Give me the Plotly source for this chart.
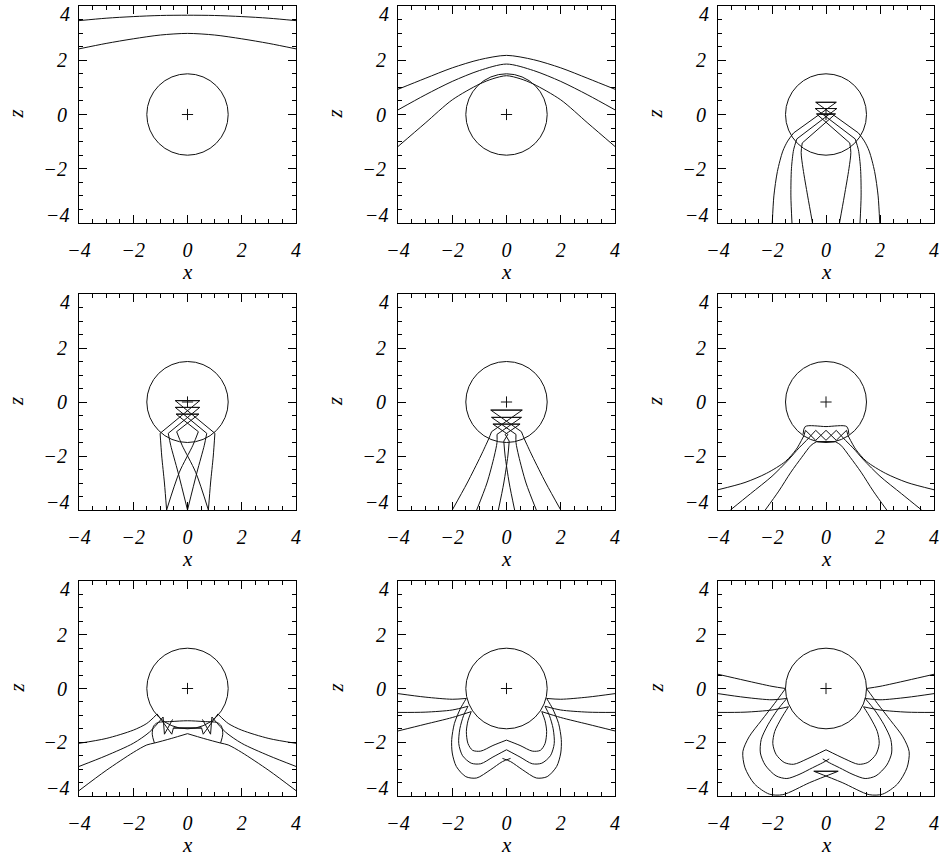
import plotly.graph_objects as go

# ---------------------------------------------------------------------------
# Data (x, z).
#   *_ARC_*  : symmetric curves given for x <= 0, completed by reflection
#   *_CURVE_*: smooth left-hand paths, drawn again mirrored about x = 0
#   *_RAY_*  : straight-segment left-hand paths, drawn again mirrored
# ---------------------------------------------------------------------------
CIRCLE_RADIUS = 1.5
AXIS_RANGE = [-4, 4]
TICK_VALUES = [-4, -2, 0, 2, 4]
X_TICK_TEXT = ["\u22124", "\u22122", "0", "2", "4"]
Y_TICK_TEXT = ["", "\u22122", "0", "2", ""]      # end labels are set inside the frame
Y_END_LABELS = [(4, "4"), (-4, "\u22124")]
MINOR_STEP = 0.5

# panel 1
P1_ARC_OUTER = [(-4, 3.46), (-3, 3.55), (-2, 3.61), (-1, 3.65), (0, 3.66)]
P1_ARC_INNER = [(-4, 2.42), (-3, 2.62), (-2, 2.79), (-1, 2.93), (0, 2.99)]

# panel 2
P2_ARC_1 = [(-4, 0.93), (-3, 1.33), (-2, 1.72), (-1, 2.02), (0, 2.18)]
P2_ARC_2 = [(-4, 0.17), (-3, 0.72), (-2, 1.22), (-1, 1.62), (0, 1.86)]
P2_ARC_3 = [(-4, -1.18), (-3, -0.32), (-2, 0.54), (-1, 1.12), (-0.5, 1.32), (0, 1.43)]

# panel 3
P3_CURVE_OUTER = [(-1.99, -4.0), (-1.93, -3.0), (-1.8, -2.1), (-1.6, -1.35), (-1.42, -0.98),
                  (-1.2, -0.68)]
P3_CURVE_MID = [(-1.26, -4.0), (-1.3, -3.0), (-1.28, -2.0), (-1.2, -1.3), (-1.08, -0.9)]
P3_CURVE_INNER = [(-0.5, -4.0), (-0.68, -3.0), (-0.85, -2.0), (-0.92, -1.4), (-0.88, -1.05)]
P3_RAY_OUTER = [(-1.2, -0.68), (0.38, 0.45), (-0.38, 0.45)]
P3_RAY_MID = [(-1.08, -0.9), (0.4, 0.22), (-0.4, 0.22)]
P3_RAY_INNER = [(-0.88, -1.05), (0.35, 0.02), (-0.35, 0.02)]

# panel 4
P4_CURVE_OUTER = [(-0.77, -4.0), (-0.85, -3.0), (-0.95, -2.0), (-1.01, -1.16)]
P4_CURVE_MID = [(0.0, -4.0), (-0.35, -2.6), (-0.62, -1.6), (-0.71, -1.16)]
P4_CURVE_INNER = [(0.77, -4.0), (0.3, -2.6), (-0.2, -1.6), (-0.4, -1.1)]
P4_RAY_OUTER = [(-1.01, -1.16), (0.45, 0.05), (-0.45, 0.05)]
P4_RAY_MID = [(-0.71, -1.16), (0.45, -0.2), (-0.45, -0.2)]
P4_RAY_INNER = [(-0.4, -1.1), (0.42, -0.45), (-0.42, -0.45)]

# panel 5
P5_CURVE_OUTER = [(-2.0, -4.0), (-1.45, -3.0), (-0.95, -2.0), (-0.65, -1.35), (-0.55, -1.1)]
P5_CURVE_MID = [(-1.1, -4.0), (-0.72, -3.0), (-0.45, -2.0), (-0.35, -1.5), (-0.35, -1.2)]
P5_CURVE_INNER = [(-0.3, -4.0), (-0.1, -3.0), (0.05, -2.0), (0.1, -1.45)]
P5_RAY_OUTER = [(-0.55, -1.1), (0.58, -0.3), (-0.58, -0.3)]
P5_RAY_MID = [(-0.35, -1.2), (0.55, -0.57), (-0.55, -0.57)]
P5_RAY_INNER = [(0.1, -1.45), (-0.05, -1.2), (0.5, -0.82), (-0.5, -0.82)]

# panel 6
P6_ARC_TOP = [(-0.85, -1.2), (-0.77, -0.91), (0, -0.91)]
P6_CURVE_OUTER = [(-4.0, -3.25), (-3.0, -2.98), (-2.2, -2.64), (-1.5, -2.2), (-1.1, -1.75),
                  (-0.82, -1.25)]
P6_CURVE_MID = [(-3.54, -4.0), (-2.8, -3.4), (-2.0, -2.75), (-1.4, -2.15), (-1.0, -1.7),
                (-0.72, -1.42)]
P6_CURVE_INNER = [(-2.25, -4.0), (-1.75, -3.3), (-1.3, -2.6), (-0.9, -2.05), (-0.55, -1.6),
                  (-0.35, -1.47)]
P6_RAY_OUTER = [(-0.82, -1.25), (-0.76, -1.05), (-0.38, -1.42), (0.0, -1.05)]
P6_RAY_MID = [(-0.72, -1.42), (-0.38, -1.05), (0.0, -1.42)]
P6_RAY_INNER = [(-0.35, -1.47), (0.35, -1.47)]

# panel 7
P7_ARC_SIDE = [(-1.22, -2.03), (-1.3, -1.7), (-1.25, -1.4), (-1.1, -1.27), (-0.6, -1.23), (0, -1.2)]
P7_CURVE_1 = [(-4.0, -2.04), (-3.0, -1.86), (-2.0, -1.55), (-1.5, -1.3), (-1.12, -0.95)]
P7_CURVE_2 = [(-4.0, -2.9), (-3.0, -2.5), (-2.0, -2.04), (-1.4, -1.62), (-0.9, -1.06)]
P7_CURVE_3 = [(-4.0, -3.8), (-3.0, -3.05), (-2.0, -2.38), (-1.5, -2.1), (-1.22, -2.03),
              (-0.6, -1.86), (0.0, -1.68)]
P7_RAY_1 = [(-1.12, -0.95), (-0.58, -1.7), (-0.52, -1.47), (0.52, -1.47)]
P7_RAY_2 = [(-0.9, -1.06), (-0.85, -1.7), (-0.55, -1.15)]

# panel 8
P8_CURVE_1 = [(-4.0, -0.19), (-3.0, -0.32), (-2.0, -0.4), (-1.48, -0.37)]
P8_CURVE_2 = [(-4.0, -0.89), (-3.0, -0.88), (-2.0, -0.8), (-1.42, -0.66)]
P8_CURVE_3 = [(-4.0, -1.58), (-3.0, -1.33), (-2.0, -1.08), (-1.3, -0.86)]
P8_LOOP_1 = [(-1.48, -0.37), (-1.7, -0.75), (-1.92, -1.3), (-2.02, -1.9), (-2.0, -2.4),
             (-1.85, -2.9), (-1.5, -3.28), (-1.1, -3.33), (-0.6, -3.03), (-0.15, -2.72),
             (0.15, -2.6)]
P8_LOOP_2 = [(-1.42, -0.66), (-1.58, -1.0), (-1.72, -1.5), (-1.76, -2.05), (-1.62, -2.5),
             (-1.3, -2.78), (-0.95, -2.8), (-0.5, -2.55), (0.0, -2.28)]
P8_LOOP_3 = [(-1.3, -0.86), (-1.42, -1.2), (-1.48, -1.6), (-1.42, -2.05), (-1.25, -2.3),
             (-0.95, -2.33), (-0.5, -2.12), (0.0, -1.92)]

# panel 9
P9_CURVE_1 = [(-4.0, 0.53), (-3.0, 0.3), (-2.0, 0.08), (-1.5, 0.0)]
P9_CURVE_2 = [(-4.0, -0.19), (-3.0, -0.33), (-2.0, -0.42), (-1.45, -0.37)]
P9_CURVE_3 = [(-4.0, -0.89), (-3.0, -0.88), (-2.0, -0.8), (-1.39, -0.68)]
P9_LOOP_1 = [(-1.5, 0.0), (-1.9, -0.55), (-2.4, -1.2), (-2.85, -1.8), (-3.08, -2.35),
             (-3.0, -2.95), (-2.65, -3.55), (-2.1, -3.93), (-1.6, -3.95), (-0.6, -3.5),
             (0.45, -3.08)]
P9_LOOP_2 = [(-1.45, -0.37), (-1.8, -0.8), (-2.15, -1.35), (-2.4, -1.9), (-2.43, -2.4),
             (-2.25, -2.85), (-1.85, -3.25), (-1.45, -3.35), (-1.0, -3.2), (-0.5, -2.95),
             (-0.12, -2.76), (0.12, -2.62)]
P9_LOOP_3 = [(-1.39, -0.68), (-1.65, -1.1), (-1.9, -1.6), (-1.97, -2.05), (-1.85, -2.45),
             (-1.55, -2.75), (-1.2, -2.82), (-0.7, -2.62), (0.0, -2.28)]
P9_RAY_CAP = [(0.45, -3.08), (-0.45, -3.08)]

PANELS = [
    dict(arcs=[P1_ARC_OUTER, P1_ARC_INNER], curves=[], rays=[]),
    dict(arcs=[P2_ARC_1, P2_ARC_2, P2_ARC_3], curves=[], rays=[]),
    dict(arcs=[], curves=[P3_CURVE_OUTER, P3_CURVE_MID, P3_CURVE_INNER],
         rays=[P3_RAY_OUTER, P3_RAY_MID, P3_RAY_INNER]),
    dict(arcs=[], curves=[P4_CURVE_OUTER, P4_CURVE_MID, P4_CURVE_INNER],
         rays=[P4_RAY_OUTER, P4_RAY_MID, P4_RAY_INNER]),
    dict(arcs=[], curves=[P5_CURVE_OUTER, P5_CURVE_MID, P5_CURVE_INNER],
         rays=[P5_RAY_OUTER, P5_RAY_MID, P5_RAY_INNER]),
    dict(arcs=[P6_ARC_TOP], curves=[P6_CURVE_OUTER, P6_CURVE_MID, P6_CURVE_INNER],
         rays=[P6_RAY_OUTER, P6_RAY_MID, P6_RAY_INNER]),
    dict(arcs=[P7_ARC_SIDE], curves=[P7_CURVE_1, P7_CURVE_2, P7_CURVE_3],
         rays=[P7_RAY_1, P7_RAY_2]),
    dict(arcs=[], curves=[P8_CURVE_1, P8_CURVE_2, P8_CURVE_3, P8_LOOP_1, P8_LOOP_2, P8_LOOP_3],
         rays=[]),
    dict(arcs=[], curves=[P9_CURVE_1, P9_CURVE_2, P9_CURVE_3, P9_LOOP_1, P9_LOOP_2, P9_LOOP_3],
         rays=[P9_RAY_CAP]),
]

# ---------------------------------------------------------------------------
# Page geometry (pixels in a 940 x 858 page)
# ---------------------------------------------------------------------------
W, H = 940, 858
COL_PX = [(79, 296), (398, 615), (718, 934)]
ROW_PX = [(6, 223), (294, 510), (581, 796)]

INK = "#111111"
SERIF = "Liberation Serif, Times New Roman, DejaVu Serif, serif"
TICK_FONT = dict(family=SERIF, style="italic", size=20, color="black")
TITLE_FONT = dict(family=SERIF, style="italic", size=21, color="black")


def mirrored(path):
    return [(-x, z) for x, z in path]


def symmetric(half):
    return list(half) + [(-x, z) for x, z in reversed(half[:-1])]


def axis_style(domain, anchor, ticktext, standoff):
    return dict(
        domain=domain, anchor=anchor, range=AXIS_RANGE, automargin=False,
        showgrid=False, zeroline=False,
        showline=True, linecolor="black", linewidth=1, mirror="ticks",
        ticks="inside", ticklen=8, tickwidth=1, tickcolor="black",
        tickmode="array", tickvals=TICK_VALUES, ticktext=ticktext,
        tickfont=TICK_FONT, ticklabelstandoff=standoff,
        minor=dict(tickmode="linear", ticks="inside", ticklen=4, tickwidth=1,
                   tickcolor="black", dtick=MINOR_STEP, tick0=0, showgrid=False),
        fixedrange=True,
    )


fig = go.Figure()
layout = dict(width=W, height=H, margin=dict(l=0, r=0, t=0, b=0),
              paper_bgcolor="white", plot_bgcolor="white", showlegend=False)
annotations = []
shapes = []


def add_path(points, xname, yname, smooth):
    line = dict(color=INK, width=1)
    if smooth:
        line.update(shape="spline", smoothing=0.8)
    fig.add_trace(go.Scatter(x=[q[0] for q in points], y=[q[1] for q in points],
                             mode="lines", line=line, xaxis=xname, yaxis=yname,
                             hoverinfo="skip"))


for i, panel in enumerate(PANELS):
    r, c = divmod(i, 3)
    n = "" if i == 0 else str(i + 1)
    xname, yname = "x" + n, "y" + n
    x0, x1 = COL_PX[c]
    y0, y1 = ROW_PX[r]
    layout["xaxis" + n] = axis_style([x0 / W, x1 / W], yname, X_TICK_TEXT, 9)
    layout["yaxis" + n] = axis_style([1 - y1 / H, 1 - y0 / H], xname, Y_TICK_TEXT, 7)

    for arc in panel["arcs"]:
        add_path(symmetric(arc), xname, yname, True)
    for curve in panel["curves"]:
        add_path(curve, xname, yname, True)
        add_path(mirrored(curve), xname, yname, True)
    for ray in panel["rays"]:
        add_path(ray, xname, yname, False)
        add_path(mirrored(ray), xname, yname, False)

    # body outline and its centre
    shapes.append(dict(type="circle", xref=xname, yref=yname,
                       x0=-CIRCLE_RADIUS, x1=CIRCLE_RADIUS,
                       y0=-CIRCLE_RADIUS, y1=CIRCLE_RADIUS,
                       line=dict(color=INK, width=1)))
    fig.add_trace(go.Scatter(x=[0], y=[0], mode="markers", xaxis=xname, yaxis=yname,
                             marker=dict(symbol="cross-thin", size=8,
                                         line=dict(color=INK, width=1)),
                             hoverinfo="skip"))

    # end labels of the vertical axis, kept inside the frame height
    for val, txt in Y_END_LABELS:
        annotations.append(dict(text=txt, xref="paper", yref=yname + " domain",
                                x=(x0 - 7) / W, y=0.5 + val / 8 - (8 / (y1 - y0)) * (val / 4),
                                showarrow=False, font=TICK_FONT,
                                xanchor="right", yanchor="middle"))

    # axis titles
    annotations.append(dict(text="x", xref="paper", yref="paper",
                            x=(x0 + x1) / 2 / W, y=1 - (y1 + 49) / H,
                            showarrow=False, font=TITLE_FONT,
                            xanchor="center", yanchor="middle"))
    annotations.append(dict(text="z", xref="paper", yref="paper",
                            x=(x0 - 63) / W, y=1 - ((y0 + y1) / 2) / H,
                            showarrow=False, font=TITLE_FONT, textangle=-90,
                            xanchor="center", yanchor="middle"))

layout["annotations"] = annotations
layout["shapes"] = shapes
fig.update_layout(**layout)
fig.write_html("out.html")
